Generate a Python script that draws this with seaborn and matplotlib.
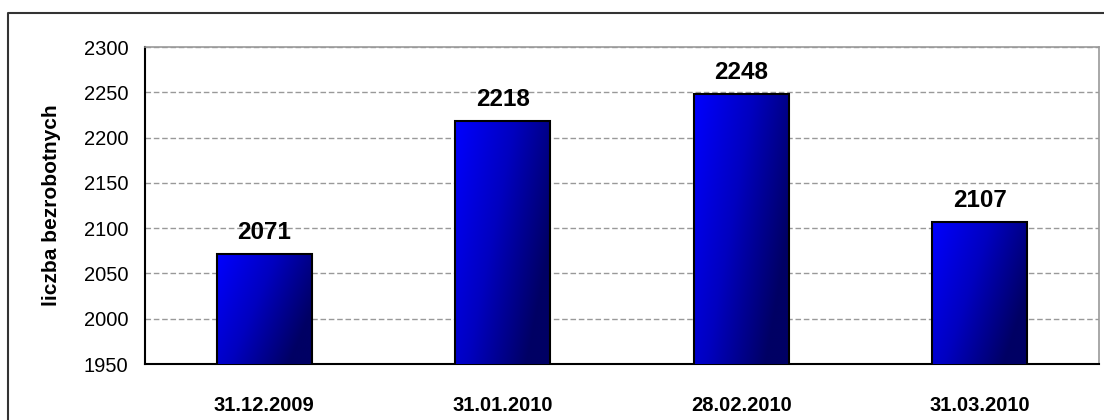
import numpy as np
import pandas as pd
import seaborn as sns
import matplotlib.pyplot as plt
from matplotlib.colors import LinearSegmentedColormap

# data
dates = ['31.12.2009', '31.01.2010', '28.02.2010', '31.03.2010']
unemployed = [2071, 2218, 2248, 2107]
y_ticks = [1950, 2000, 2050, 2100, 2150, 2200, 2250, 2300]

sns.set_style('white')
plt.rcParams['font.family'] = ['Liberation Sans', 'DejaVu Sans']
plt.rcParams['text.color'] = 'black'
plt.rcParams['axes.labelcolor'] = 'black'
plt.rcParams['xtick.color'] = 'black'
plt.rcParams['ytick.color'] = 'black'

df = pd.DataFrame({'data': dates, 'liczba': unemployed})

fig = plt.figure(figsize=(11.04, 4.2), dpi=100)
ax = fig.add_axes([145 / 1104, 56 / 420, 954 / 1104, 317 / 420])

sns.barplot(data=df, x='data', y='liczba', color='white', edgecolor='black',
            linewidth=1.5, width=0.4, ax=ax, zorder=3)

ymin, ymax = y_ticks[0], y_ticks[-1]

# gradient fill for the bars (bright blue top-left -> navy bottom-right)
cmap = LinearSegmentedColormap.from_list('bar', ['#0000ff', '#0000c0', '#000064'])
gx, gy = np.meshgrid(np.linspace(0, 1, 120), np.linspace(0, 1, 120))
grad = np.clip(0.8 * gx + 0.4 * gy, 0, 1)

for patch in ax.patches:
    x0 = patch.get_x()
    w = patch.get_width()
    top = patch.get_y() + patch.get_height()
    bottom = max(patch.get_y(), ymin)
    patch.set_facecolor('none')
    im = ax.imshow(grad, cmap=cmap, vmin=0, vmax=1, origin='upper', aspect='auto',
                   extent=(x0, x0 + w, bottom, top), zorder=2.8, interpolation='bilinear')
    im.set_clip_path(patch)

for i, v in enumerate(unemployed):
    ax.annotate(str(v), (i, v), xytext=(0, 11), textcoords='offset points',
                ha='center', va='baseline', fontsize=17.5, fontweight='bold')

ax.set_xlim(-0.5, len(dates) - 0.5)
ax.set_ylim(ymin, ymax)
ax.set_yticks(y_ticks)
ax.set_xticks(range(len(dates)))
ax.set_xticklabels(dates, fontsize=14.5, fontweight='bold')
ax.set_xticks(np.arange(len(dates) + 1) - 0.5, minor=True)
ax.tick_params(axis='x', which='major', length=0, pad=23)
ax.tick_params(axis='x', which='minor', length=6, width=1.2, direction='out', color='black')
ax.tick_params(axis='y', length=6, width=1.2, direction='out', color='black', labelsize=14.5, pad=6)

ax.set_xlabel('')
ax.set_ylabel('liczba bezrobotnych', fontsize=15, fontweight='bold', labelpad=16)

ax.yaxis.grid(True, linestyle=(0, (4, 2)), color='#999999', linewidth=1)
ax.set_axisbelow(True)

for side in ['left', 'bottom']:
    ax.spines[side].set_color('black')
    ax.spines[side].set_linewidth(1.5)
for side in ['top', 'right']:
    ax.spines[side].set_color('#999999')
    ax.spines[side].set_linewidth(1.2)

# outer frame of the chart area
fig.add_artist(plt.Line2D([8 / 1104, 8 / 1104, 1.01], [0, 1 - 13 / 420, 1 - 13 / 420],
                          transform=fig.transFigure, color='#333333', lw=1.5))

fig.savefig('out.png', dpi=100)
